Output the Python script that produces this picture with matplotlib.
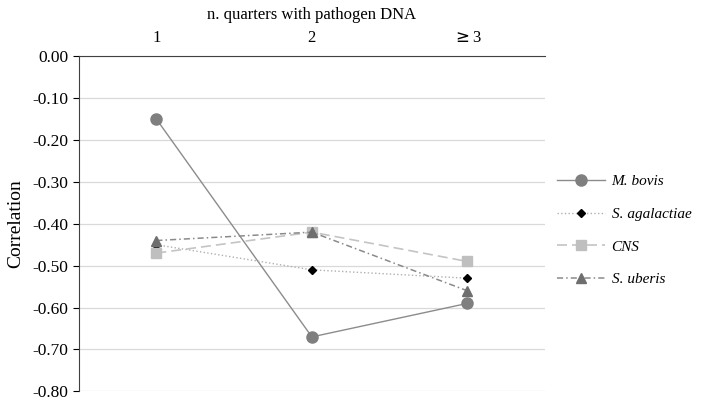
import numpy as np
import matplotlib.pyplot as plt

plt.rcParams['font.family'] = ['Liberation Serif', 'DejaVu Serif']

categories = ['1', '2', '$\\geq$3']
m_bovis = [-0.15, -0.67, -0.59]
s_agalactiae = [-0.45, -0.51, -0.53]
cns = [-0.47, -0.42, -0.49]
s_uberis = [-0.44, -0.42, -0.56]

fig = plt.figure(figsize=(7.08, 4.01), dpi=100)
ax = fig.add_axes([0.111, 0.024, 0.659, 0.836])

x = np.arange(len(categories))
ax.plot(x, m_bovis, color='#8c8c8c', linewidth=1.0, marker='o', markersize=8,
        markerfacecolor='#7f7f7f', markeredgecolor='#7f7f7f', label='M. bovis')
ax.plot(x, s_agalactiae, color='#b0b0b0', linewidth=1.0, linestyle=':',
        marker='D', markersize=4.5, markerfacecolor='black', markeredgecolor='black',
        label='S. agalactiae')
ax.plot(x, cns, color='#c4c4c4', linewidth=1.2, linestyle=(0, (6, 3)),
        marker='s', markersize=7, markerfacecolor='#bfbfbf', markeredgecolor='#bfbfbf',
        label='CNS')
ax.plot(x, s_uberis, color='#8a8a8a', linewidth=1.1, linestyle=(0, (4, 2, 1, 2)),
        marker='^', markersize=7, markerfacecolor='#6e6e6e', markeredgecolor='#6e6e6e',
        label='S. uberis')

ax.set_xlim(-0.5, 2.5)
ax.set_ylim(-0.8, 0.0)
ax.set_yticks(np.arange(-0.8, 0.01, 0.1))
ax.yaxis.set_major_formatter(plt.FuncFormatter(lambda v, p: f'{v:.2f}' if abs(v) > 1e-9 else '0.00'))
ax.set_xticks(x)
ax.set_xticklabels(categories)
ax.xaxis.tick_top()
ax.xaxis.set_label_position('top')
ax.tick_params(axis='x', length=0, labelsize=12, pad=7)
ax.tick_params(axis='y', length=4, labelsize=12.5, width=0.8)
ax.set_xlabel('n. quarters with pathogen DNA', fontsize=12, labelpad=8)
ax.set_ylabel('Correlation', fontsize=14, labelpad=6)

ax.grid(axis='y', color='#d9d9d9', linewidth=0.9)
ax.set_axisbelow(True)
for s in ['right', 'bottom']:
    ax.spines[s].set_visible(False)
ax.spines['left'].set_color('#404040')
ax.spines['top'].set_color('#404040')

leg = ax.legend(loc='center left', bbox_to_anchor=(0.995, 0.48), frameon=False,
                prop={'style': 'italic', 'size': 11}, handlelength=3.2,
                handletextpad=0.4, labelspacing=1.25)

fig.savefig('out.png', dpi=100)
